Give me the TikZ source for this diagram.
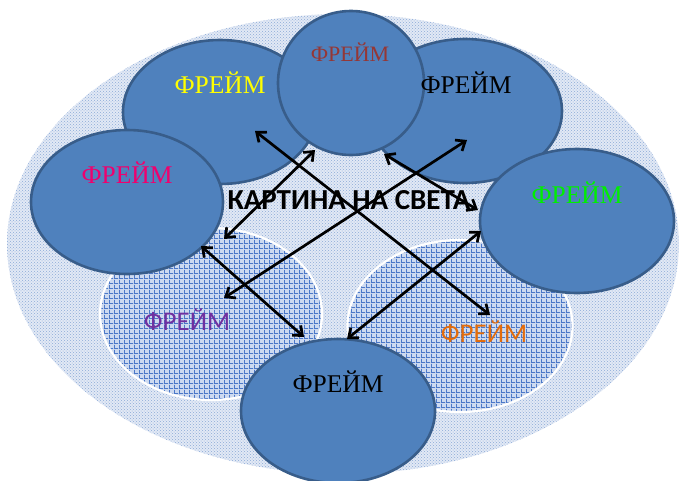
\documentclass[tikz,border=0pt]{standalone}
\usepackage{fontspec}
\setmainfont{Liberation Serif}
\newfontfamily\calib{Carlito}
\usetikzlibrary{patterns,arrows.meta,shapes.geometric}
\pgfdeclarepatternformonly{widegrid}{\pgfpointorigin}{\pgfqpoint{4.5pt}{4.5pt}}{\pgfqpoint{4.5pt}{4.5pt}}{%
  \pgfsetlinewidth{0.9pt}%
  \pgfpathmoveto{\pgfqpoint{0pt}{0.45pt}}\pgfpathlineto{\pgfqpoint{4.5pt}{0.45pt}}%
  \pgfpathmoveto{\pgfqpoint{0.45pt}{0pt}}\pgfpathlineto{\pgfqpoint{0.45pt}{4.5pt}}%
  \pgfusepath{stroke}}
\definecolor{framefill}{HTML}{4F81BD}
\definecolor{frameline}{HTML}{385D8A}
\definecolor{bgfill}{RGB}{226,233,245}
\definecolor{bgdots}{RGB}{140,170,215}
\definecolor{hatchfill}{RGB}{205,218,240}
\definecolor{hatchline}{RGB}{75,120,200}
\definecolor{tbrown}{HTML}{953735}
\definecolor{tpink}{RGB}{240,0,110}
\definecolor{tgreen}{RGB}{0,240,0}
\definecolor{tpurple}{HTML}{7030A0}
\definecolor{torange}{HTML}{E46C0A}
\definecolor{tyellow}{RGB}{255,255,0}
\begin{document}
\begin{tikzpicture}[x=1pt,y=-1pt,
  frame/.style={ellipse,draw=frameline,line width=2.6pt,fill=framefill,inner sep=0pt,
    minimum width=194pt,minimum height=144pt},
  hatch/.style={ellipse,draw=white,line width=2.2pt,inner sep=0pt,
    preaction={fill=hatchfill},pattern=widegrid,pattern color=hatchline},
  serif/.style={font=\fontsize{25.5}{25.5}\selectfont,inner sep=0pt},
  sans/.style={font=\calib\fontsize{27}{27}\selectfont,inner sep=0pt},
  link/.style={line width=2.7pt,{Straight Barb[length=8pt,width=13pt]}-{Straight Barb[length=8pt,width=13pt]}}]
\useasboundingbox (0,0) rectangle (686,480);
\clip (0,0) rectangle (686,480);
% background ellipse
\node[ellipse,inner sep=0pt,minimum width=672pt,minimum height=460pt,
  preaction={fill=bgfill},pattern=crosshatch dots,pattern color=bgdots] (world) at (343,244) {};
% hatched ellipses
\node[hatch,minimum width=222pt,minimum height=172pt] (hl) at (211,314) {};
\node[hatch,minimum width=225pt,minimum height=172pt] (hr) at (460,326) {};
% frames
\node[frame] (ftl) at (220,112) {};
\node[frame] (ftr) at (465,111) {};
\node[frame,minimum width=146pt] (ftc) at (351,83) {};
\node[frame,minimum width=192pt] (fl) at (127,202) {};
\node[frame] (fr) at (577,221) {};
\node[frame] (fb) at (338,411) {};
% labels
\node[serif,text=tyellow] (t1) at (220,83) {ФРЕЙМ};
\node[serif,text=tbrown,font=\fontsize{22}{22}\selectfont] (t2) at (350,52) {ФРЕЙМ};
\node[serif,text=black] (t3) at (466,83) {ФРЕЙМ};
\node[serif,text=tpink] (t4) at (127,173) {ФРЕЙМ};
\node[serif,text=tgreen] (t5) at (577,193) {ФРЕЙМ};
\node[sans,text=tpurple] (t6) at (187,320) {ФРЕЙМ};
\node[sans,text=torange] (t7) at (484,332) {ФРЕЙМ};
\node[serif,text=black] (t8) at (338,382) {ФРЕЙМ};
\node[font=\calib\bfseries\fontsize{29}{29}\selectfont,inner sep=0pt] (title) at (349,200) {КАРТИНА НА СВЕТА};
% arrow end points
\coordinate (a1) at (255,131); \coordinate (b1) at (490,315);
\coordinate (a2) at (315,150); \coordinate (b2) at (224,239);
\coordinate (a3) at (467,140); \coordinate (b3) at (224,298);
\coordinate (a4) at (384,154); \coordinate (b4) at (478,210);
\coordinate (a5) at (201,246); \coordinate (b5) at (304,337);
\coordinate (a6) at (481,231); \coordinate (b6) at (347,339);
\draw[link] (a1) -- (b1);
\draw[link] (a2) -- (b2);
\draw[link] (a3) -- (b3);
\draw[link] (a4) -- (b4);
\draw[link] (a5) -- (b5);
\draw[link] (a6) -- (b6);
\end{tikzpicture}
\end{document}
